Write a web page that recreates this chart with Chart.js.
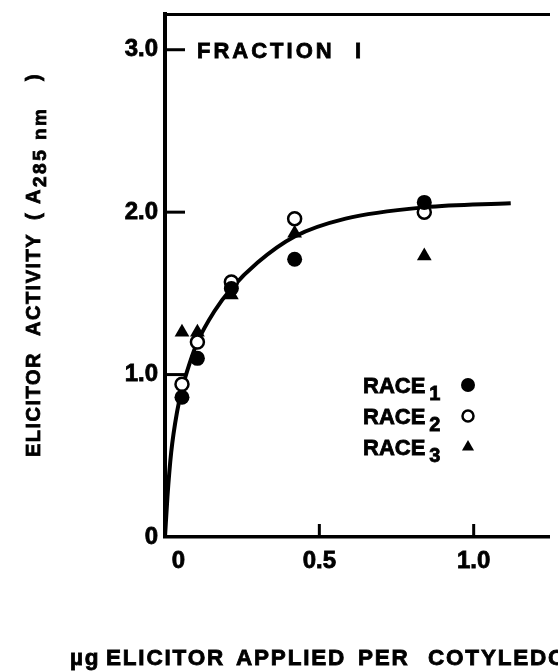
<!DOCTYPE html>
<html>
<head>
<meta charset="utf-8">
<script src="https://cdn.jsdelivr.net/npm/chart.js@4.4.1/dist/chart.umd.min.js"></script>
<style>
html, body { margin: 0; padding: 0; background: #fff; overflow: hidden; }
canvas { display: block; }
</style>
</head>
<body>
<canvas id="myChart" width="558" height="671"></canvas>
<script>
// doses (ug per cotyledon) and activity for each race
const doses = [0.055, 0.105, 0.215, 0.42, 0.84]
const race1 = [0.86, 1.10, 1.53, 1.71, 2.06]
const race2 = [0.94, 1.20, 1.57, 1.96, 2.00]
const race3 = [1.26, 1.26, 1.49, 1.87, 1.73]
// the drawn curve
const curveX = [0, 0.008, 0.02, 0.04, 0.055, 0.08, 0.105, 0.16, 0.215, 0.3, 0.42, 0.585, 0.842, 1.12]
const curveY = [0, 0.25, 0.52, 0.78, 0.91, 1.07, 1.20, 1.39, 1.53, 1.69, 1.85, 1.96, 2.03, 2.055]
const xTicks = [0, 0.5, 1.0]
const xTickLabels = ['    0', '0.5', '1.0']
const yTicks = [0, 1, 2, 3]
const yTickLabels = ['0', '1.0', '2.0', '3.0']
const raceNames = ['RACE', 'RACE', 'RACE']
const raceSubs = ['1', '2', '3']
const xTitleWords = ['\u00b5g', 'ELICITOR', 'APPLIED', 'PER', 'COTYLEDON']

const FONT = "'Liberation Sans', Arial, Helvetica, sans-serif"
const INK = '#000'

function pts(xs, ys) {
    return xs.map((x, i) => ({ x: x, y: ys[i] }))
}

const markerStyles = [
    { pointStyle: 'circle', radius: 7.5, fill: INK, border: 0 },
    { pointStyle: 'circle', radius: 6.5, fill: '#fff', border: 2.5 },
    { pointStyle: 'triangle', radius: 8.5, fill: INK, border: 0 }
]
const races = [race1, race2, race3]

// heavy lettering, fill plus a thin stroke
function heavy(ctx, str, x, y) {
    ctx.fillText(str, x, y)
    ctx.strokeText(str, x, y)
}

// inward tick marks like the original
const tickMarks = {
    id: 'tickMarks',
    afterDraw(chart) {
        const ctx = chart.ctx
        const a = chart.chartArea
        const xs = chart.scales.x
        const ys = chart.scales.y
        ctx.save()
        ctx.strokeStyle = INK
        ctx.lineWidth = 3
        yTicks.forEach(v => {
            if (v === 0) return
            const y = ys.getPixelForValue(v)
            ctx.beginPath(); ctx.moveTo(a.left, y); ctx.lineTo(a.left + 20, y); ctx.stroke()
        })
        xTicks.forEach(v => {
            if (v === 0) return
            const x = xs.getPixelForValue(v)
            ctx.beginPath(); ctx.moveTo(x, a.bottom); ctx.lineTo(x, a.bottom - 13); ctx.stroke()
        })
        ctx.restore()
    }
}

// panel label, legend and axis titles (need subscripts)
const texts = {
    id: 'texts',
    afterDraw(chart) {
        const ctx = chart.ctx
        ctx.save()
        ctx.fillStyle = INK
        ctx.strokeStyle = INK
        ctx.lineWidth = 0.8
        ctx.textBaseline = 'alphabetic'
        ctx.textAlign = 'left'

        // FRACTION I
        ctx.font = 'bold 22px ' + FONT
        ctx.letterSpacing = '3px'
        heavy(ctx, 'FRACTION', 197, 58)
        heavy(ctx, 'I', 355, 58)

        // legend
        ctx.letterSpacing = '0px'
        for (let i = 0; i < 3; i++) {
            const base = 393 + i * 31
            ctx.font = 'bold 22px ' + FONT
            heavy(ctx, raceNames[i], 363, base)
            const w = ctx.measureText(raceNames[i]).width
            ctx.font = 'bold 20px ' + FONT
            heavy(ctx, raceSubs[i], 363 + w + 4, base + 7)
            const m = markerStyles[i]
            ctx.save()
            ctx.fillStyle = m.fill
            ctx.lineWidth = m.border
            Chart.helpers.drawPoint(ctx, { pointStyle: m.pointStyle, radius: i === 1 ? 5.5 : 7, rotation: 0, borderWidth: m.border }, 468, base - 8)
            ctx.restore()
        }

        // y title, rotated
        ctx.save()
        ctx.translate(40, 457)
        ctx.rotate(-Math.PI / 2)
        ctx.font = 'bold 20px ' + FONT
        ctx.letterSpacing = '1.5px'
        heavy(ctx, 'ELICITOR', 0, 0)
        heavy(ctx, 'ACTIVITY', 121, 0)
        ctx.letterSpacing = '0px'
        heavy(ctx, '(', 237, 0)
        heavy(ctx, 'A', 253, 0)
        ctx.font = 'bold 19px ' + FONT
        ctx.letterSpacing = '2.5px'
        heavy(ctx, '285 nm', 270, 6)
        ctx.letterSpacing = '0px'
        ctx.font = 'bold 20px ' + FONT
        heavy(ctx, ')', 376, 0)
        ctx.restore()

        // x title, runs off the right edge as in the original
        ctx.font = 'bold 22.5px ' + FONT
        ctx.letterSpacing = '1.8px'
        const wordX = [70, 106, 236, 358, 428]
        xTitleWords.forEach((wd, i) => heavy(ctx, wd, wordX[i], 665))
        ctx.restore()
    }
}

const datasets = races.map((r, i) => ({
    type: 'scatter',
    label: raceNames[i] + raceSubs[i],
    data: pts(doses, r),
    pointStyle: markerStyles[i].pointStyle,
    pointRadius: markerStyles[i].radius,
    pointBackgroundColor: markerStyles[i].fill,
    pointBorderColor: INK,
    pointBorderWidth: markerStyles[i].border,
    order: 1
}))
datasets.push({
    type: 'line',
    label: 'fit',
    data: pts(curveX, curveY),
    borderColor: INK,
    borderWidth: 4,
    pointRadius: 0,
    tension: 0.4,
    cubicInterpolationMode: 'monotone',
    fill: false,
    order: 10
})

const ctx = document.getElementById('myChart')

const tickFont = { family: FONT, weight: 'bold', size: 24 }

new Chart(ctx, {
    type: 'scatter',
    data: { datasets: datasets },
    options: {
        responsive: false,
        animation: false,
        layout: { padding: { top: 14, left: 0, right: 0, bottom: 0 } },
        plugins: { legend: { display: false }, tooltip: { enabled: false }, title: { display: false } },
        scales: {
            x: {
                type: 'linear',
                position: 'bottom',
                min: 0,
                max: 1.244,
                afterBuildTicks: s => { s.ticks = xTicks.map(v => ({ value: v })) },
                afterFit: s => { s.height = 134; s.paddingLeft = 0; s.paddingRight = 0 },
                grid: { display: false, drawTicks: false },
                border: { display: true, color: INK, width: 3.5 },
                ticks: {
                    color: INK,
                    padding: 10,
                    maxRotation: 0,
                    autoSkip: false,
                    textStrokeColor: INK,
                    textStrokeWidth: 0.8,
                    font: tickFont,
                    callback: v => xTickLabels[xTicks.indexOf(v)]
                }
            },
            xTop: {
                type: 'linear',
                position: 'top',
                min: 0,
                max: 1.244,
                afterFit: s => { s.height = 0; s.paddingLeft = 0; s.paddingRight = 0 },
                grid: { display: false, drawTicks: false },
                border: { display: true, color: INK, width: 3 },
                ticks: { display: false }
            },
            y: {
                type: 'linear',
                min: 0,
                max: 3.22,
                afterBuildTicks: s => { s.ticks = yTicks.map(v => ({ value: v })) },
                afterFit: s => { s.width = 165; s.paddingTop = 0; s.paddingBottom = 0 },
                grid: { display: false, drawTicks: false },
                border: { display: true, color: INK, width: 4 },
                ticks: {
                    color: INK,
                    padding: 7,
                    textStrokeColor: INK,
                    textStrokeWidth: 0.8,
                    font: tickFont,
                    callback: v => yTickLabels[yTicks.indexOf(v)]
                }
            }
        }
    },
    plugins: [tickMarks, texts]
})
</script>
</body>
</html>
